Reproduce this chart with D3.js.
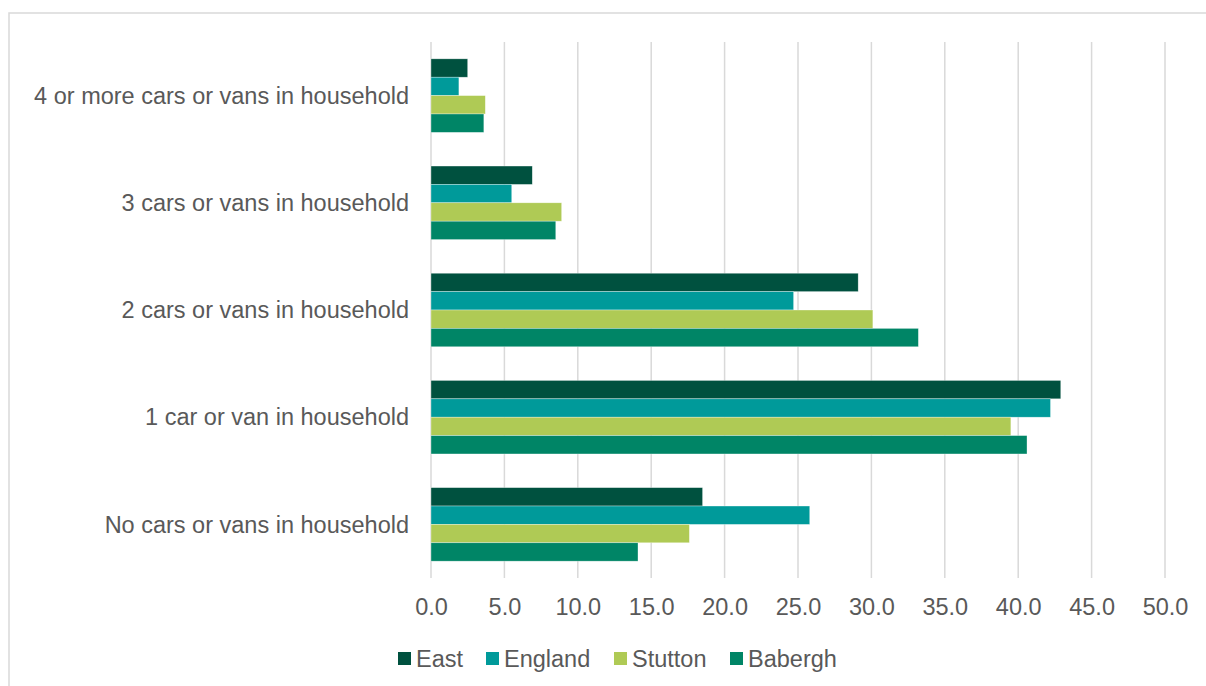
<!DOCTYPE html>
<html>
<head>
<meta charset="utf-8">
<script src="https://cdn.jsdelivr.net/npm/d3@7"></script>
<style>
  body { margin: 0; background: #fff; }
  text { font-family: "Liberation Sans", Arial, sans-serif; fill: #595959; }
</style>
</head>
<body>
<script>
// categories top to bottom
var categories = [
  '4 or more cars or vans in household',
  '3 cars or vans in household',
  '2 cars or vans in household',
  '1 car or van in household',
  'No cars or vans in household'
];
var seriesNames = ['East', 'England', 'Stutton', 'Babergh'];
var seriesColors = ['#00513f', '#009a9a', '#afca55', '#008566'];

var eastValues    = [2.5, 6.9, 29.1, 42.9, 18.5];
var englandValues = [1.9, 5.5, 24.7, 42.2, 25.8];
var stuttonValues = [3.7, 8.9, 30.1, 39.5, 17.6];
var baberghValues = [3.6, 8.5, 33.2, 40.6, 14.1];

var xTicks = [0, 5, 10, 15, 20, 25, 30, 35, 40, 45, 50];

var allValues = [eastValues, englandValues, stuttonValues, baberghValues];

var width = 1206, height = 686;
var plot = {left: 431, right: 1165, top: 42, bottom: 578};

var svg = d3.select('body').append('svg')
    .attr('width', width)
    .attr('height', height);

// outer chart border (runs past the window on the right and bottom)
svg.append('rect')
    .attr('x', 9).attr('y', 13)
    .attr('width', 1300).attr('height', 800)
    .attr('fill', 'none')
    .attr('stroke', '#d9d9d9')
    .attr('stroke-width', 1.5);

var x = d3.scaleLinear().domain([0, 50]).range([plot.left, plot.right]);

var y = d3.scaleBand()
    .domain(categories)
    .range([plot.top, plot.bottom])
    .paddingInner(0.314)
    .paddingOuter(0.157);

var ySub = d3.scaleBand()
    .domain(seriesNames)
    .range([0, y.bandwidth()]);

// gridlines
svg.append('g').selectAll('line')
    .data(xTicks)
  .enter().append('line')
    .attr('x1', d => x(d)).attr('x2', d => x(d))
    .attr('y1', plot.top).attr('y2', plot.bottom)
    .attr('stroke', '#d9d9d9')
    .attr('stroke-width', 1.5);

// bars
var rows = [];
categories.forEach(function(c, i) {
  seriesNames.forEach(function(s, j) {
    rows.push({cat: c, series: s, value: allValues[j][i], color: seriesColors[j]});
  });
});

svg.append('g').selectAll('rect')
    .data(rows)
  .enter().append('rect')
    .attr('x', x(0))
    .attr('y', d => y(d.cat) + ySub(d.series))
    .attr('width', d => x(d.value) - x(0))
    .attr('height', ySub.bandwidth())
    .attr('fill', d => d.color)
    .attr('stroke', 'rgba(255,255,255,0.55)')
    .attr('stroke-width', 0.6);

// category labels
svg.append('g').selectAll('text')
    .data(categories)
  .enter().append('text')
    .attr('x', 409)
    .attr('y', d => y(d) + y.bandwidth() / 2)
    .attr('dy', '0.35em')
    .attr('text-anchor', 'end')
    .style('font-size', '23.5px')
    .text(d => d);

// x axis tick labels
var xAxis = d3.axisBottom(x)
    .tickValues(xTicks)
    .tickFormat(d3.format('.1f'))
    .tickSize(0)
    .tickPadding(0);

var gx = svg.append('g')
    .attr('transform', 'translate(0,' + plot.bottom + ')')
    .call(xAxis);
gx.select('.domain').remove();
gx.selectAll('text')
    .attr('y', 37)
    .attr('dy', 0)
    .attr('fill', null)
    .style('font-size', '23.5px');

// legend
var legendX = [398, 486, 614, 730];
var legend = svg.append('g').selectAll('g')
    .data(seriesNames)
  .enter().append('g')
    .attr('transform', (d, i) => 'translate(' + legendX[i] + ',652)');
legend.append('rect')
    .attr('width', 13).attr('height', 13)
    .attr('fill', (d, i) => seriesColors[i]);
legend.append('text')
    .attr('x', 18)
    .attr('y', 15)
    .style('font-size', '23.5px')
    .text(d => d);
</script>
</body>
</html>
